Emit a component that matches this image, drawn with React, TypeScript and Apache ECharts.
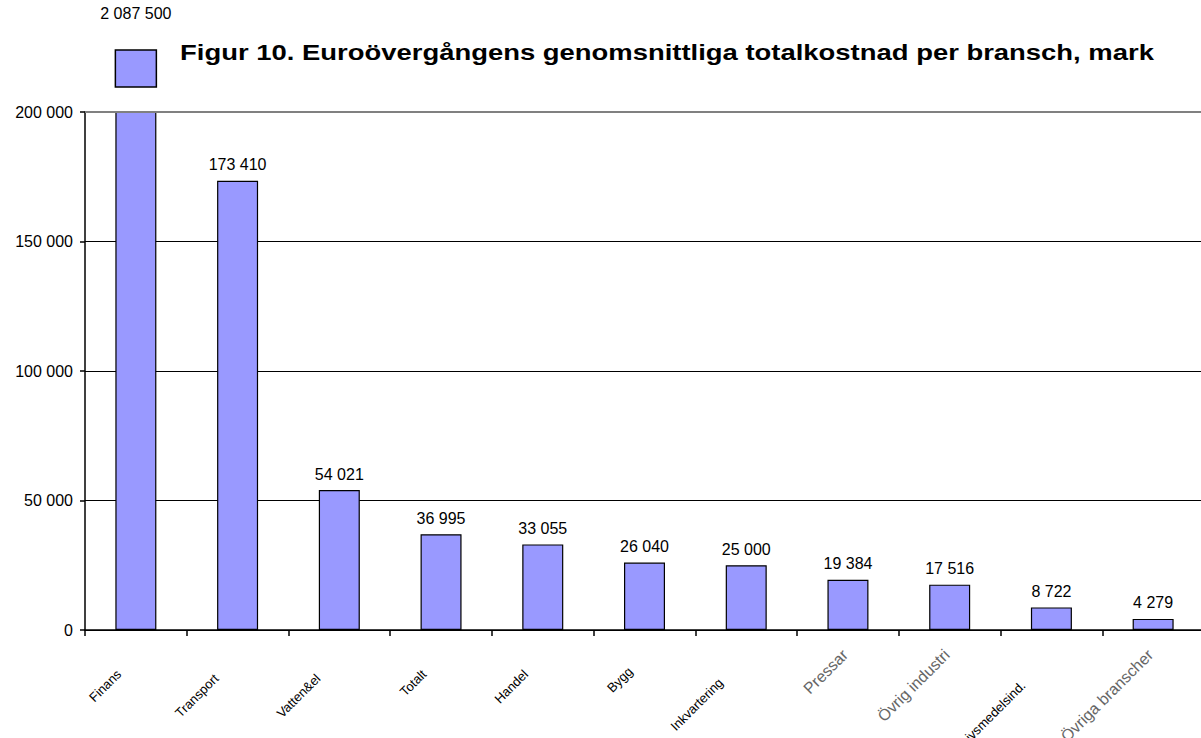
import React, { useEffect, useRef } from "react";
import * as echarts from "echarts";

const categories = [
  "Finans",
  "Transport",
  "Vatten&el",
  "Totalt",
  "Handel",
  "Bygg",
  "Inkvartering",
  "Pressar",
  "Övrig industri",
  "Livsmedelsind.",
  "Övriga branscher",
];
const values = [2087500, 173410, 54021, 36995, 33055, 26040, 25000, 19384, 17516, 8722, 4279];
const fadedLabels = ["Pressar", "Övrig industri", "Övriga branscher"];
const yTicks = [0, 50000, 100000, 150000, 200000];
const titleText = "Figur 10. Euroövergångens genomsnittliga totalkostnad per bransch, mark";

const FONT = "'Liberation Sans', Arial, sans-serif";
const fmt = (n: number) => String(n).replace(/\B(?=(\d{3})+(?!\d))/g, " ");

export default function App() {
  const ref = useRef<HTMLDivElement>(null);
  useEffect(() => {
    document.body.style.margin = "0";
    if (!ref.current) return;
    const chart = echarts.init(ref.current, undefined, { renderer: "svg" });
    const yMax = yTicks[yTicks.length - 1];
    const rich: Record<string, any> = {};
    categories.forEach((c, i) => {
      const faded = fadedLabels.includes(c);
      rich["r" + i] = faded
        ? {
            fontSize: 16,
            fontFamily: FONT,
            color: "#666",
            padding: [0, 0, 8, 0],
          }
        : {
            fontSize: 13,
            fontFamily: FONT,
            color: "#000",
            padding: [0, 12 + 2 * c.length, 0, 0],
          };
    });
    chart.setOption({
      animation: false,
      backgroundColor: "#fff",
      textStyle: { fontFamily: FONT },
      grid: {
        left: 85,
        top: 112,
        width: 1119,
        height: 518,
        containLabel: false,
        outerBoundsMode: "none",
      },
      xAxis: {
        type: "category",
        data: categories,
        axisLine: { lineStyle: { color: "#000", width: 1.5 } },
        axisTick: { show: true, length: 6, lineStyle: { color: "#000", width: 1.5 } },
        axisLabel: {
          rotate: 45,
          margin: 25,
          interval: 0,
          formatter: (v: string, i: number) => `{r${i}|${v}}`,
          rich,
        },
      },
      yAxis: {
        type: "value",
        min: 0,
        max: yMax,
        interval: 50000,
        axisLine: { show: true, lineStyle: { color: "#000", width: 1.5 } },
        axisTick: { show: true, length: 5, lineStyle: { color: "#000", width: 1.5 } },
        axisLabel: {
          margin: 12,
          fontSize: 16,
          color: "#000",
          fontFamily: FONT,
          formatter: (v: number) => fmt(v),
        },
        splitLine: { show: true, lineStyle: { color: "#000", width: 1 } },
      },
      series: [
        {
          type: "bar",
          data: values.map((v, i) =>
            i === 0 ? { value: v, label: { show: false } } : v
          ),
          barWidth: 41,
          clip: true,
          itemStyle: { color: "#9999FF", borderColor: "#000", borderWidth: 1.2 },
          label: {
            show: true,
            position: "top",
            distance: 8,
            fontSize: 16,
            color: "#000",
            fontFamily: FONT,
            formatter: (p: any) => fmt(p.value),
          },
          markLine: {
            silent: true,
            symbol: "none",
            label: { show: false },
            lineStyle: { color: "#808080", width: 2, type: "solid" },
            data: [{ yAxis: yMax }],
          },
        },
      ],
    });
    const cx = chart.convertToPixel({ xAxisIndex: 0 }, categories[0]) as number;
    const yTop = chart.convertToPixel({ yAxisIndex: 0 }, yMax) as number;
    chart.setOption({
      graphic: [
        {
          type: "text",
          x: 667,
          y: 52,
          scaleX: 1.247,
          style: {
            text: titleText,
            fontSize: 22,
            fontWeight: "bold",
            fontFamily: FONT,
            fill: "#000",
            align: "center",
            verticalAlign: "middle",
          },
        },
        {
          type: "rect",
          shape: { x: cx - 20.5, y: yTop - 62, width: 41, height: 37 },
          style: { fill: "#9999FF", stroke: "#000", lineWidth: 1.5 },
        },
        {
          type: "text",
          x: cx,
          y: yTop - 99,
          style: {
            text: fmt(values[0]),
            fontSize: 16,
            fontFamily: FONT,
            fill: "#000",
            align: "center",
            verticalAlign: "middle",
          },
        },
      ],
    });
    return () => chart.dispose();
  }, []);
  return (
    <div
      ref={ref}
      style={{ position: "fixed", left: 0, top: 0, width: 1201, height: 738 }}
    />
  );
}
